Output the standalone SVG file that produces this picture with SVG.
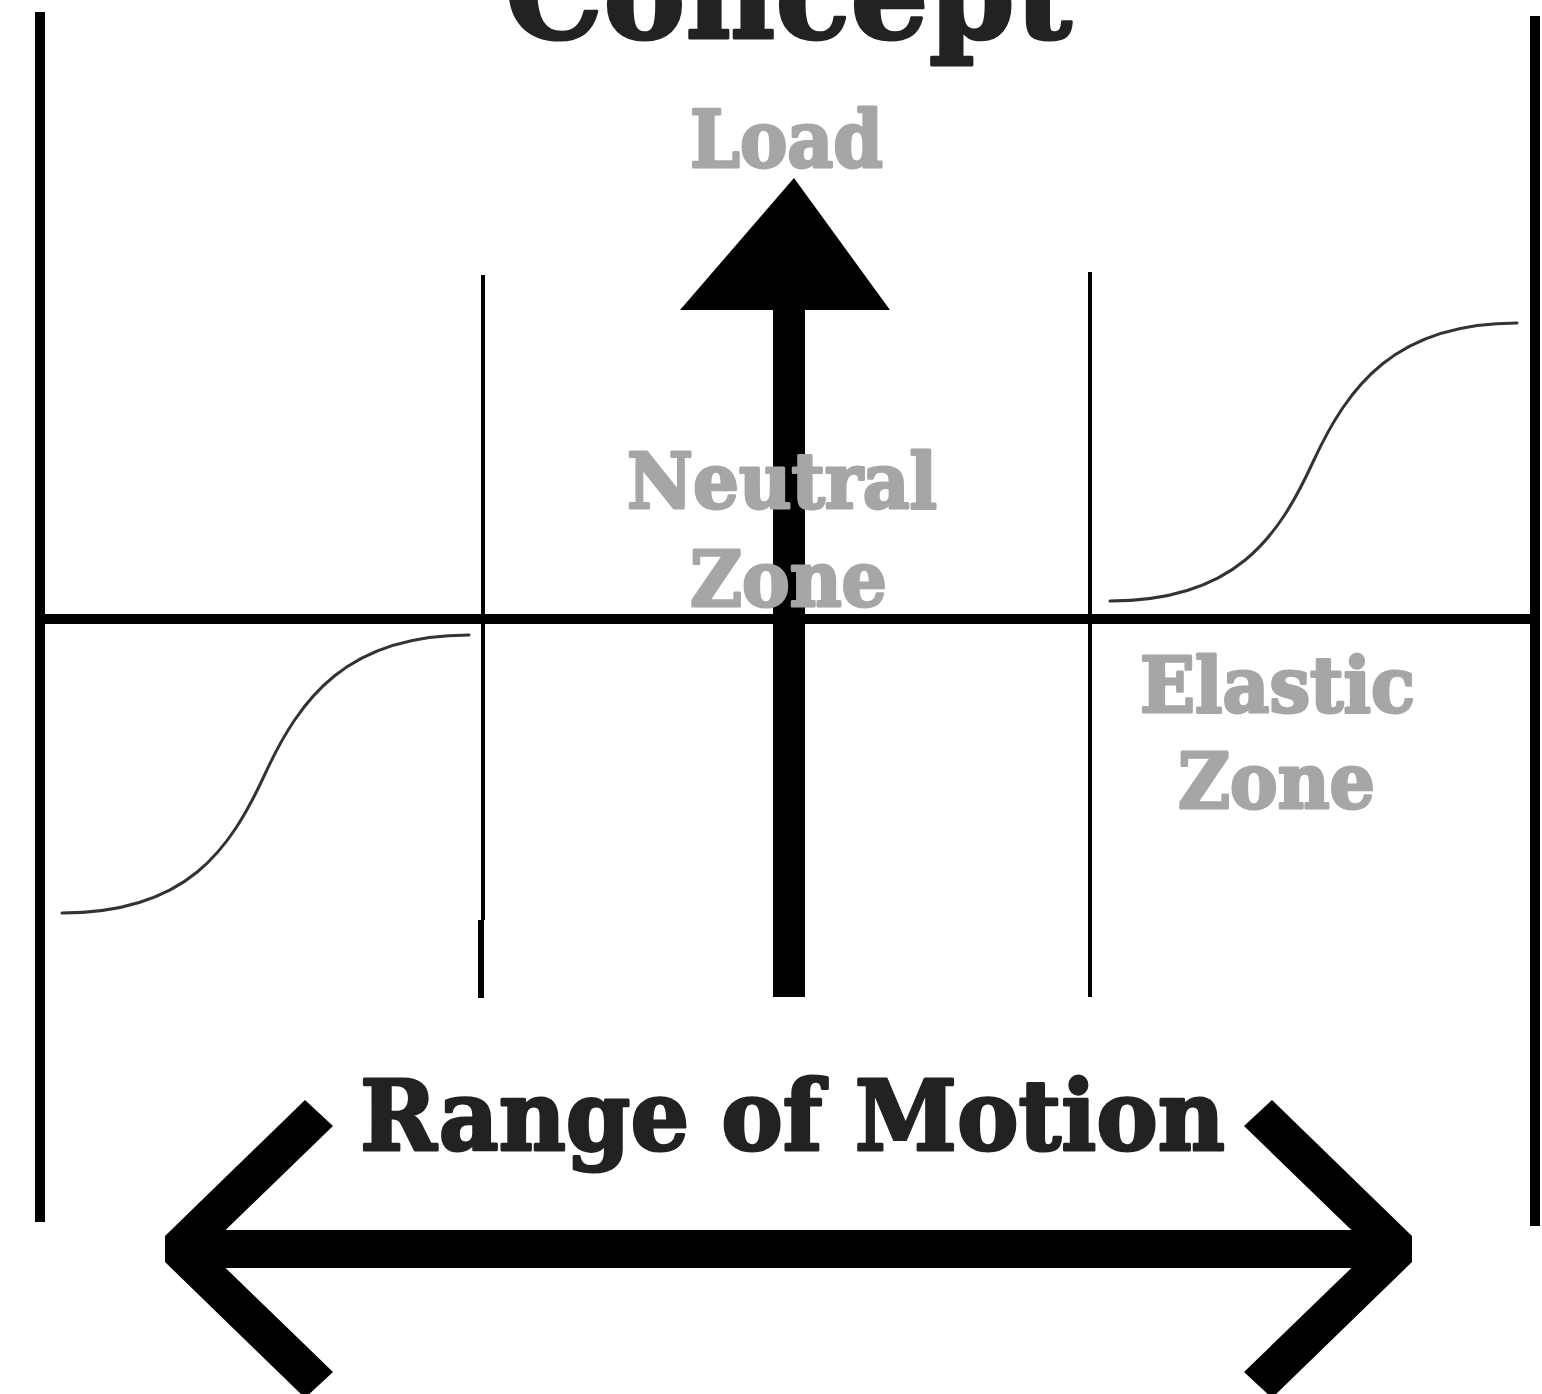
<svg xmlns="http://www.w3.org/2000/svg" width="1542" height="1394" viewBox="0 0 1542 1394">
<style>
.t{font-family:"DejaVu Serif","Liberation Serif",serif;font-weight:bold;stroke-width:3;stroke-linejoin:round}
.dark{fill:#222;stroke:#222}
.gray{fill:#a6a6a6;stroke:#a6a6a6}
.frame{stroke:#000;fill:none}
.curve{stroke:#333;stroke-width:3;fill:none;stroke-linecap:round}
</style>
<defs>
<path id="sig" d="M1110,601 C1235,601 1278,538 1313,462 S1395,323 1517,323"/>
</defs>
<rect width="1542" height="1394" fill="#fff"/>
<g id="title"><text class="t dark" x="505" y="38" font-size="130" textLength="567" lengthAdjust="spacingAndGlyphs">Concept</text></g>
<g id="axes">
<line class="frame" x1="40" y1="12" x2="40" y2="1222" stroke-width="10"/>
<line class="frame" x1="1535" y1="16" x2="1535" y2="1226" stroke-width="10"/>
<line class="frame" x1="40" y1="619" x2="1535" y2="619" stroke-width="10"/>
<line class="frame" x1="483" y1="275" x2="483" y2="920" stroke-width="4"/>
<line class="frame" x1="481" y1="920" x2="481" y2="998" stroke-width="6"/>
<line class="frame" x1="1090" y1="272" x2="1090" y2="997" stroke-width="4"/>
</g>
<g id="curves">
<use href="#sig" class="curve"/>
<use href="#sig" class="curve" transform="translate(-1048,312)"/>
</g>
<g id="connectors">
<g id="load-arrow">
<rect x="773" y="300" width="32" height="697" fill="#000"/>
<polygon points="794,178 890,310 680,310" fill="#000"/>
</g>
<g id="rom-arrow" fill="#000">
<rect x="190" y="1230" width="1200" height="38"/>
<polygon points="305,1100 333,1126 206,1249 333,1372 305,1398 165,1262 165,1236"/>
<polygon points="1272,1100 1244,1126 1371,1249 1244,1372 1272,1398 1412,1262 1412,1236"/>
</g>
</g>
<g id="load-label"><text class="t gray" x="690" y="167" font-size="78" textLength="193" lengthAdjust="spacingAndGlyphs">Load</text></g>
<g id="neutral-zone">
<text class="t gray" x="627" y="508" font-size="76" textLength="310" lengthAdjust="spacingAndGlyphs">Neutral</text>
<text class="t gray" x="690" y="606" font-size="76" textLength="197" lengthAdjust="spacingAndGlyphs">Zone</text>
</g>
<g id="elastic-zone">
<text class="t gray" x="1140" y="712" font-size="76" textLength="275" lengthAdjust="spacingAndGlyphs">Elastic</text>
<text class="t gray" x="1178" y="808" font-size="76" textLength="197" lengthAdjust="spacingAndGlyphs">Zone</text>
</g>
<g id="rom-label"><text class="t dark" x="360" y="1150" font-size="98" textLength="865" lengthAdjust="spacingAndGlyphs">Range of Motion</text></g>
</svg>
